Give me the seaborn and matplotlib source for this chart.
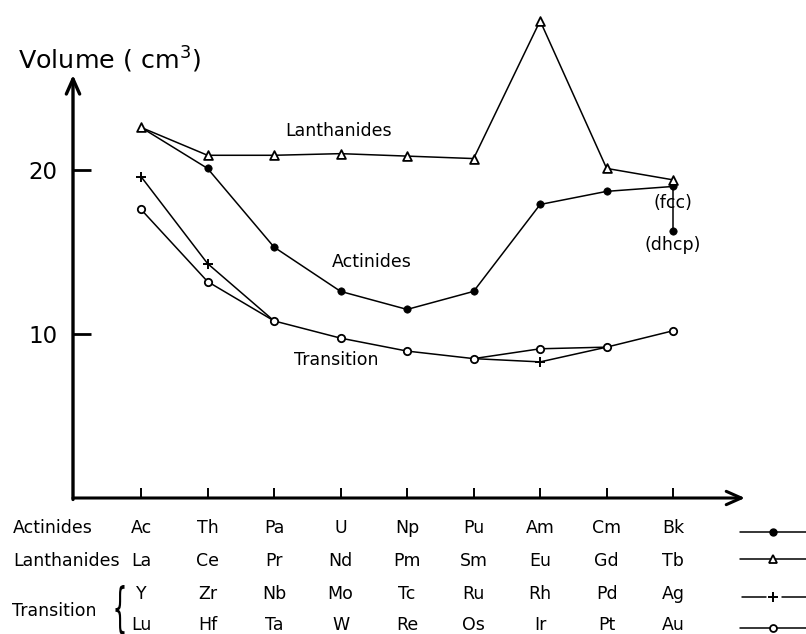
import numpy as np
import pandas as pd
import matplotlib
matplotlib.use("Agg")
import matplotlib.pyplot as plt
from matplotlib import transforms
from matplotlib.textpath import TextPath
from matplotlib.patches import PathPatch
from matplotlib.font_manager import FontProperties
import seaborn as sns

# Column positions of the elements along the horizontal axis
positions = [1, 2, 3, 4, 5, 6, 7, 8, 9]

actinide_names = ["Ac", "Th", "Pa", "U", "Np", "Pu", "Am", "Cm", "Bk"]
lanthanide_names = ["La", "Ce", "Pr", "Nd", "Pm", "Sm", "Eu", "Gd", "Tb"]
transition_4d_names = ["Y", "Zr", "Nb", "Mo", "Tc", "Ru", "Rh", "Pd", "Ag"]
transition_5d_names = ["Lu", "Hf", "Ta", "W", "Re", "Os", "Ir", "Pt", "Au"]

# Atomic volumes (cm^3 per mole)
actinide_volume = [22.6, 20.1, 15.3, 12.6, 11.5, 12.6, 17.9, 18.7, 19.0]
actinide_marked = [False, True, True, True, True, True, True, True, True]
bk_dhcp_volume = 16.3
lanthanide_volume = [22.6, 20.9, 20.9, 21.0, 20.85, 20.7, 29.1, 20.1, 19.4]
transition_4d_volume = [19.6, 14.3, 10.8, np.nan, np.nan, 8.5, 8.3, 9.2, np.nan]
transition_4d_marked = [True, True, False, False, False, False, True, False, False]
transition_5d_volume = [17.6, 13.2, 10.8, 9.75, 8.96, 8.5, 9.1, 9.2, 10.2]

yticks = [10, 20]

sns.set_theme(style="white", rc={
    "text.color": "black", "axes.labelcolor": "black",
    "xtick.color": "black", "ytick.color": "black",
})
plt.rcParams["font.family"] = ["DejaVu Sans"]

W, H = 806, 634
fig = plt.figure(figsize=(W / 100, H / 100), dpi=100)
ax = fig.add_axes([73 / W, 136 / H, 672 / W, 488 / H])

LW = 1.1
black = "black"
FS_LABEL = 12.5
FS_TABLE = 12.5

# --- connecting lines ---
sns.lineplot(x=positions, y=lanthanide_volume, color=black, lw=LW,
             sort=False, estimator=None, ax=ax)
sns.lineplot(x=positions, y=actinide_volume, color=black, lw=LW,
             sort=False, estimator=None, ax=ax)
sns.lineplot(x=[positions[-1], positions[-1]], y=[actinide_volume[-1], bk_dhcp_volume],
             color=black, lw=LW, sort=False, estimator=None, ax=ax)
sns.lineplot(x=positions, y=transition_5d_volume, color=black, lw=LW,
             sort=False, estimator=None, ax=ax)

# 4d series is drawn in separate runs where values exist
t4 = pd.DataFrame({"x": positions, "v": transition_4d_volume})
t4["run"] = t4["v"].isna().cumsum()
t4 = t4.dropna()
sns.lineplot(data=t4, x="x", y="v", units="run", estimator=None, sort=False,
             color=black, lw=LW, ax=ax)

# --- markers ---
sns.scatterplot(x=positions, y=lanthanide_volume, marker="^", s=40,
                color="white", edgecolor=black, linewidth=1.3, zorder=4, ax=ax)
act_x = [p for p, m in zip(positions, actinide_marked) if m]
act_y = [v for v, m in zip(actinide_volume, actinide_marked) if m]
sns.scatterplot(x=act_x + [positions[-1]], y=act_y + [bk_dhcp_volume], marker="o",
                s=28, color=black, edgecolor=black, linewidth=0.5, zorder=3, ax=ax)
sns.scatterplot(x=positions, y=transition_5d_volume, marker="o", s=28,
                color="white", edgecolor=black, linewidth=1.3, zorder=4, ax=ax)
t4_x = [p for p, m in zip(positions, transition_4d_marked) if m]
t4_y = [v for v, m in zip(transition_4d_volume, transition_4d_marked) if m]
sns.scatterplot(x=t4_x, y=t4_y, marker="+", s=55, color=black,
                linewidth=1.4, zorder=4, ax=ax)

# --- curve labels ---
ax.text(3.97, 22.4, "Lanthanides", ha="center", va="center", fontsize=FS_LABEL)
ax.text(4.47, 14.4, "Actinides", ha="center", va="center", fontsize=FS_LABEL)
ax.text(3.94, 8.4, "Transition", ha="center", va="center", fontsize=FS_LABEL)
ax.text(9.0, 18.0, "(fcc)", ha="center", va="center", fontsize=FS_LABEL)
ax.text(9.0, 15.4, "(dhcp)", ha="center", va="center", fontsize=FS_LABEL)

# --- axes ---
ax.set_xlim(-0.0226, 10.08)
ax.set_ylim(0, 29.76)
for s in ax.spines.values():
    s.set_visible(False)
ax.set_xticks(positions)
ax.set_xticklabels([])
ax.set_yticks(yticks)
ax.set_yticklabels([str(t) for t in yticks])
ax.tick_params(axis="x", bottom=True, direction="in", length=7, width=1.4)
ax.tick_params(axis="y", left=True, direction="in", length=13, width=2,
               labelsize=16.5, pad=11)
ax.set_xlabel("")
ax.set_ylabel("")

ax.annotate("", xy=(0, 0.867), xytext=(0, -0.003), xycoords="axes fraction",
            arrowprops=dict(arrowstyle="->,head_length=0.9,head_width=0.4",
                            lw=2.4, color=black, shrinkA=0, shrinkB=0),
            annotation_clip=False)
ax.annotate("", xy=(1, 0), xytext=(0, 0), xycoords="axes fraction",
            arrowprops=dict(arrowstyle="->,head_length=0.9,head_width=0.4",
                            lw=2.2, color=black, shrinkA=0, shrinkB=0),
            annotation_clip=False)

fig.text(18 / W, 1 - 60 / H, "Volume ( cm$^3$)", ha="left", va="center", fontsize=18.3)

# --- element table below the axis ---
blend = transforms.blended_transform_factory(ax.transData, fig.transFigure)
rows = [
    ("Actinides", actinide_names, 1 - 528 / H),
    ("Lanthanides", lanthanide_names, 1 - 561 / H),
    (None, transition_4d_names, 1 - 594 / H),
    (None, transition_5d_names, 1 - 625 / H),
]
for label, names, y in rows:
    if label:
        fig.text(13 / W, y, label, ha="left", va="center", fontsize=FS_TABLE)
    for p, n in zip(positions, names):
        ax.text(p, y, n, transform=blend, ha="center", va="center",
                fontsize=FS_TABLE, clip_on=False)
fig.text(12 / W, 1 - 611 / H, "Transition", ha="left", va="center", fontsize=FS_TABLE)

# curly brace grouping the two transition rows
tp = TextPath((0, 0), "{", size=14, prop=FontProperties(family="DejaVu Sans"))
bb = tp.get_extents()
sy = 50 / bb.height
sx = 9 / bb.width
tr = (transforms.Affine2D()
      .translate(-(bb.x0 + bb.width / 2), -(bb.y0 + bb.height / 2))
      .scale(sx, sy)
      .translate(120, H - 610))
fig.patches.append(PathPatch(tp, transform=tr, color=black, lw=0))

# --- legend keys at the right of the table ---
def px_to_x(px):
    return (px - 73) / 66.5 - 0.0226

key_rows = [1 - 532 / H, 1 - 559 / H, 1 - 597 / H, 1 - 628 / H]
xa, xm, xb = px_to_x(740), px_to_x(773), px_to_x(806)
ax.plot([xa, xb], [key_rows[0]] * 2, color=black, lw=LW, transform=blend, clip_on=False)
ax.plot([xm], [key_rows[0]], "o", ms=5, color=black, transform=blend, clip_on=False)
ax.plot([xa, xb], [key_rows[1]] * 2, color=black, lw=LW, transform=blend, clip_on=False)
ax.plot([xm], [key_rows[1]], "^", ms=6, mfc="white", mec=black, mew=1.3,
        transform=blend, clip_on=False)
ax.plot([px_to_x(742), px_to_x(766)], [key_rows[2]] * 2, color=black, lw=LW,
        transform=blend, clip_on=False)
ax.plot([px_to_x(782), xb], [key_rows[2]] * 2, color=black, lw=LW,
        transform=blend, clip_on=False)
ax.plot([xm], [key_rows[2]], "+", ms=7, mew=1.4, color=black, transform=blend, clip_on=False)
ax.plot([xa, xb], [key_rows[3]] * 2, color=black, lw=LW, transform=blend, clip_on=False)
ax.plot([xm], [key_rows[3]], "o", ms=5, mfc="white", mec=black, mew=1.3,
        transform=blend, clip_on=False)

if ax.get_legend():
    ax.get_legend().remove()

fig.savefig("out.png", dpi=100)
